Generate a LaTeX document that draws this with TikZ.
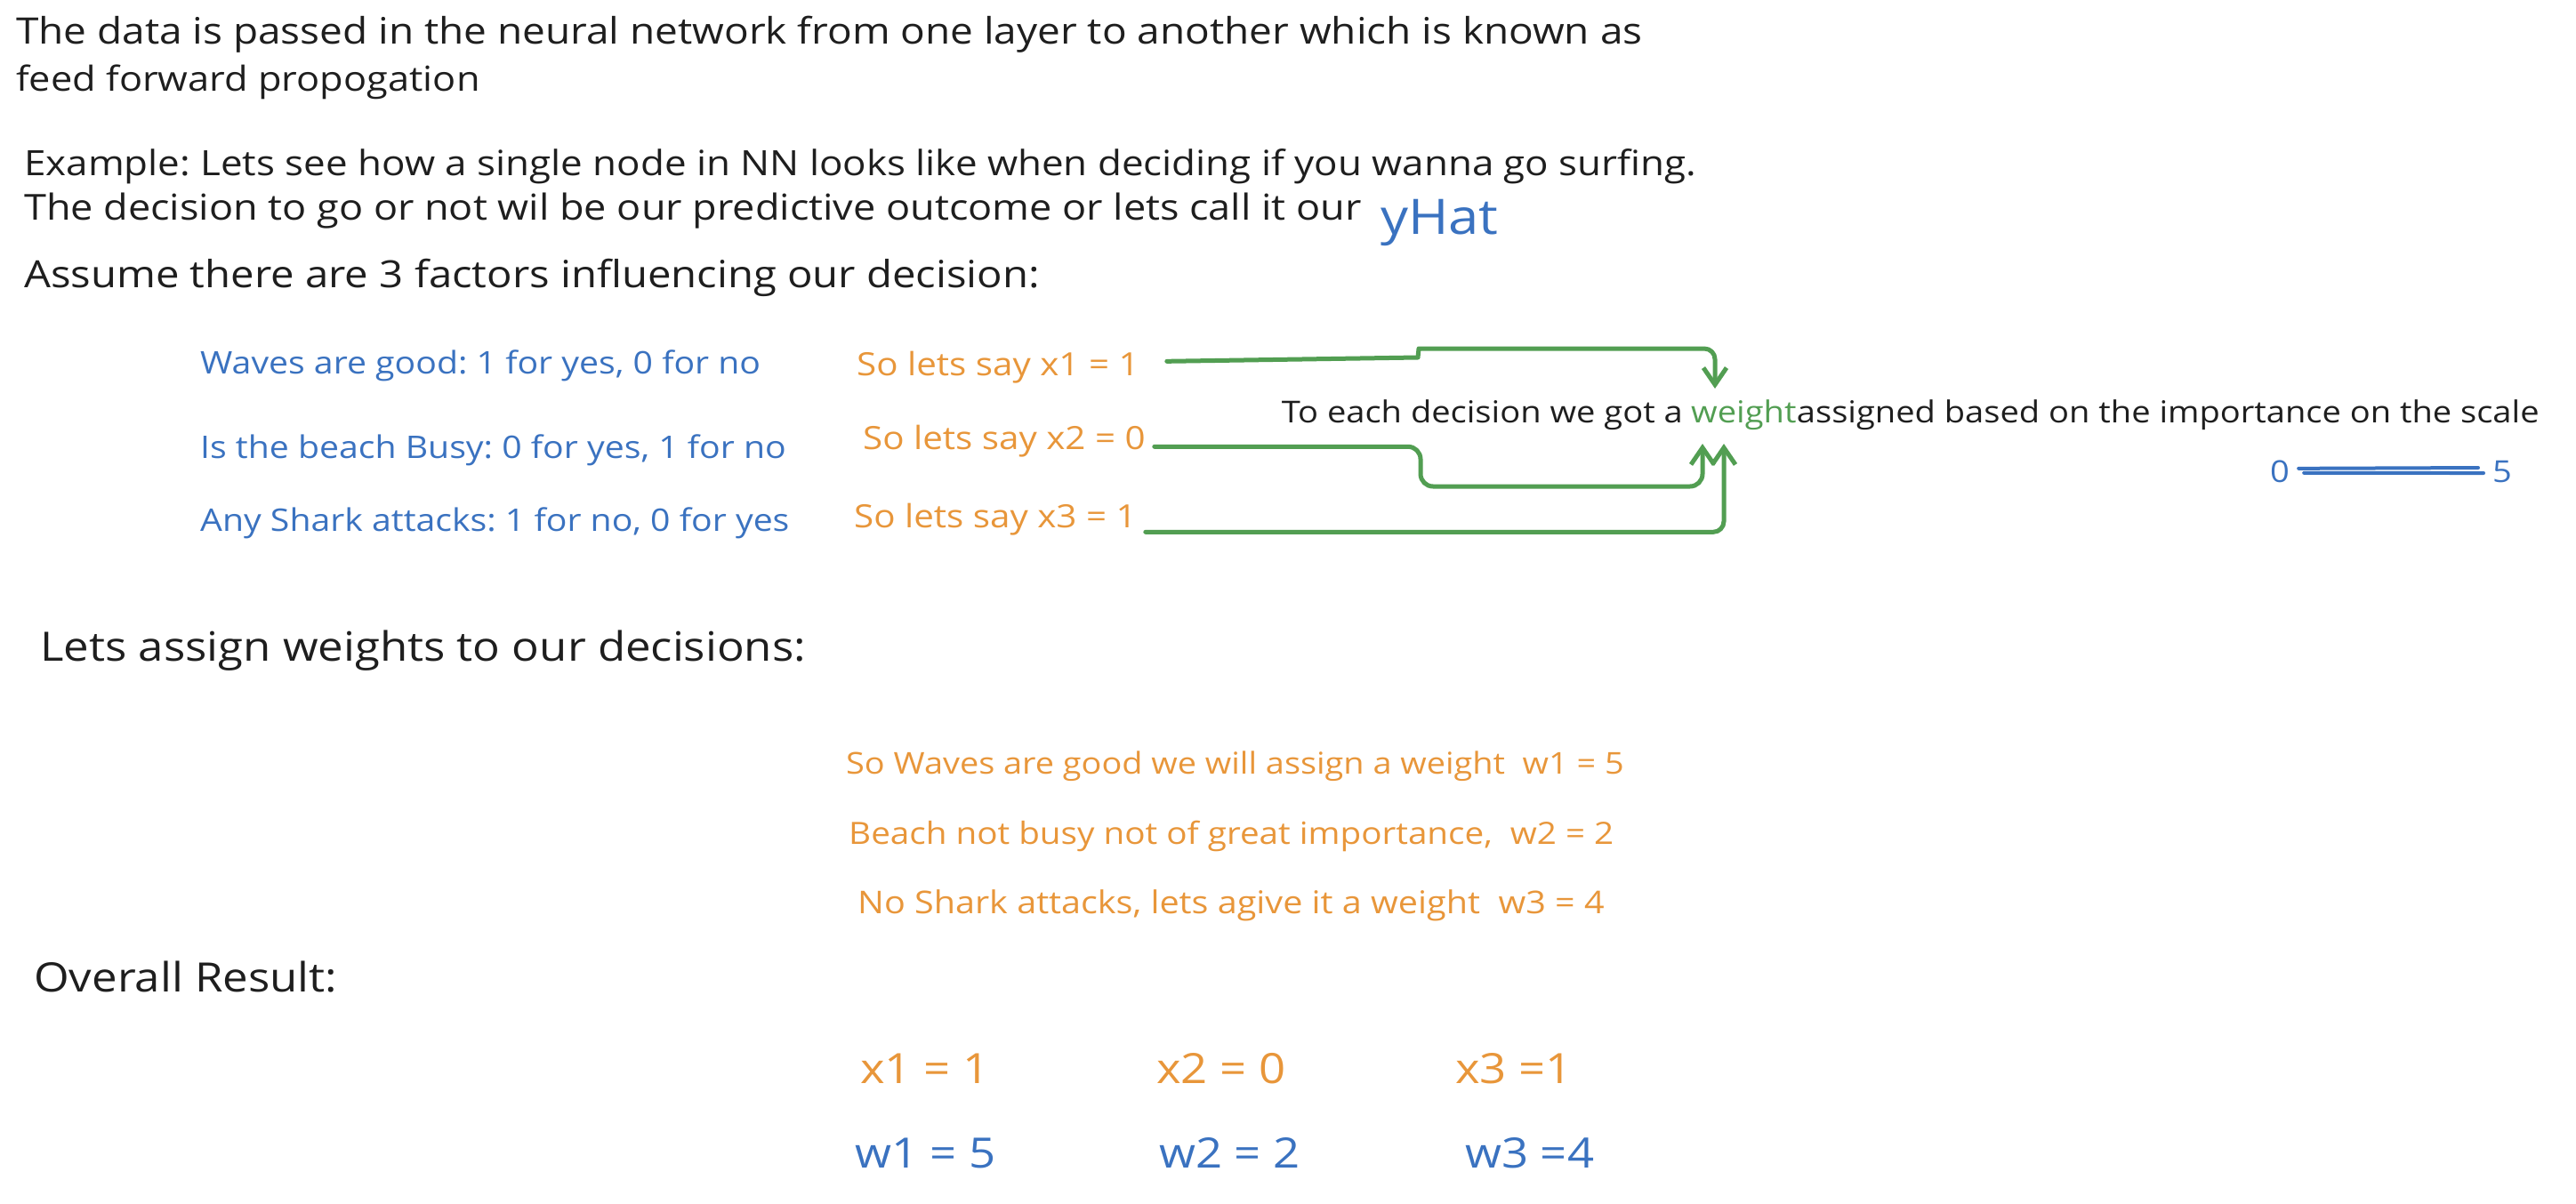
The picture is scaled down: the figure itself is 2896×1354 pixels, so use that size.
\documentclass[tikz,border=0pt]{standalone}
\usepackage{fontspec}
\setmainfont[FakeStretch=1.12]{Open Sans}
\usetikzlibrary{arrows.meta}
\definecolor{exblack}{HTML}{1E1E1E}
\definecolor{exblue}{HTML}{3A72C0}
\definecolor{exorange}{HTML}{E8963A}
\definecolor{exgreen}{HTML}{529E52}
\frenchspacing
\begin{document}
\begin{tikzpicture}[x=1pt,y=-1pt,
  txt/.style={inner sep=0pt,anchor=base west,text=exblack},
  body/.style={txt,font=\fontsize{#1}{50}\selectfont},
  body/.default=41,
  head/.style={txt,font=\fontsize{45.5}{52}\selectfont},
  factor/.style={txt,text=exblue,font=\fontsize{35}{40}\selectfont},
  xval/.style={txt,text=exorange,font=\fontsize{36}{40}\selectfont},
  wval/.style={txt,text=exorange,font=\fontsize{#1}{40}\selectfont},
  note/.style={txt,font=\fontsize{34}{42}\selectfont},
  big/.style={txt,font=\fontsize{47}{52}\selectfont},
  garrow/.style={draw=exgreen,line width=5pt,line cap=round,line join=round,
    -{Straight Barb[length=19pt,width=26pt]}}
]
\useasboundingbox (0,0) rectangle (2896,1354);
\fill[white] (0,0) rectangle (2896,1354);

% intro
\node[body=41] (t1) at (18,50) {The data is passed in the neural network from one layer to another which is known as};
\node[body=38.7] (t2) at (18,102) {feed forward propogation};
\node[body=39.2] (t3) at (27,197) {Example: Lets see how a single node in NN looks like when deciding if you wanna go surfing.};
\node[body=40.2] (t4) at (27,247) {The decision to go or not wil be our predictive outcome or lets call it our};
\node[txt,text=exblue,font=\fontsize{55}{60}\selectfont] (yhat) at (1552,263) {yHat};
\node[body=42.2] (t5) at (27,323) {Assume there are 3 factors influencing our decision:};

% factors
\node[factor] (f1) at (225,420) {Waves are good: 1 for yes, 0 for no};
\node[factor] (f2) at (225,515) {Is the beach Busy: 0 for yes, 1 for no};
\node[factor] (f3) at (225,597) {Any Shark attacks: 1 for no, 0 for yes};

\node[xval] (x1t) at (963,422) {So lets say x1 = 1};
\node[xval] (x2t) at (970,505) {So lets say x2 = 0};
\node[xval] (x3t) at (960,593) {So lets say x3 = 1};

% weight note
\node[note,text=exgreen] (wt) at (1901,475) {weight};
\node[note,anchor=base east] (ted) at ([xshift=-9pt]wt.base west) {To each decision we got a};
\node[note] (asg) at (wt.base east) {assigned based on the importance on the scale};

% scale
\node[txt,text=exblue,font=\fontsize{34}{40}\selectfont] (zero) at (2552,542) {0};
\node[txt,text=exblue,font=\fontsize{34}{40}\selectfont] (five) at (2802,542) {5};
\draw[exblue,line width=4pt,line cap=round] ([xshift=10pt,yshift=3pt]zero.east) -- ([xshift=-16pt,yshift=4pt]five.west);
\draw[exblue,line width=4pt,line cap=round] ([xshift=16pt,yshift=-2pt]zero.east) -- ([xshift=-10pt,yshift=-2pt]five.west);

% arrows
\coordinate (a1s) at ([xshift=31pt,yshift=13pt]x1t.mid east);
\coordinate (a2s) at ([xshift=10pt]x2t.mid east);
\coordinate (a3s) at ([xshift=10pt,yshift=-8pt]x3t.mid east);
\coordinate (a1e) at ([xshift=27pt,yshift=38pt]wt.base west);
\coordinate (a2e) at ([xshift=13pt,yshift=-24pt]wt.base west);
\coordinate (a3e) at ([xshift=37pt,yshift=-24pt]wt.base west);
\draw[garrow] (a1s) -- (1594,402) -- (1595,392) [rounded corners=12pt] -| (a1e);
\draw[garrow,rounded corners=14pt] (a2s) -| (1597,547) -| (a2e);
\draw[garrow,rounded corners=12pt] (a3s) -| (a3e);

% weights
\node[head] (h1) at (45,743) {Lets assign weights to our decisions:};
\node[wval=33.8] (w1t) at (951,870) {So Waves are good we will assign a weight\ \ w1 = 5};
\node[wval=34.5] (w2t) at (954,949) {Beach not busy not of great importance,\ \ w2 = 2};
\node[wval=35.3] (w3t) at (964,1027) {No Shark attacks, lets agive it a weight\ \ w3 = 4};

% overall
\node[head] (h2) at (38,1115) {Overall Result:};
\node[big,text=exorange] (bx1) at (967,1218) {x1 = 1};
\node[big,text=exorange] (bx2) at (1300,1218) {x2 = 0};
\node[big,text=exorange] (bx3) at (1636,1218) {x3 =1};
\node[big,text=exblue] (bw1) at (961,1313) {w1 = 5};
\node[big,text=exblue] (bw2) at (1303,1313) {w2 = 2};
\node[big,text=exblue] (bw3) at (1647,1313) {w3 =4};
\end{tikzpicture}
\end{document}
